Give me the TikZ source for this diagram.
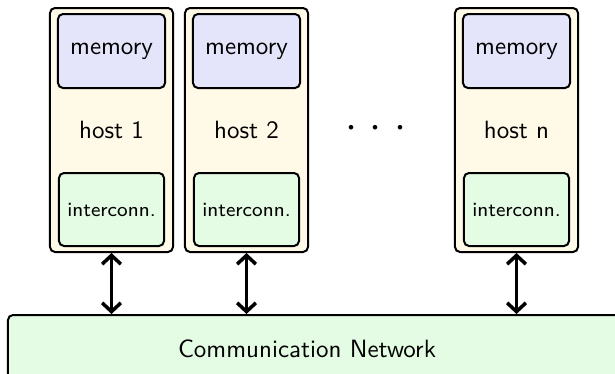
\documentclass[tikz,border=0pt]{standalone}
\usetikzlibrary{arrows.meta}
\definecolor{hostfill}{HTML}{FFFAE8}
\definecolor{memfill}{HTML}{E4E4FB}
\definecolor{icfill}{HTML}{E4FBE4}
\begin{document}
\begin{tikzpicture}[x=0.4pt,y=-0.4pt,font=\sffamily,
  hostbox/.style={draw=black,line width=0.8pt,rounded corners=2pt,fill=hostfill,minimum width=49.2pt,minimum height=97.6pt,inner sep=0pt},
  membox/.style={draw=black,line width=0.8pt,rounded corners=2pt,fill=memfill,minimum width=42.8pt,minimum height=29.6pt,inner sep=0pt},
  icbox/.style={draw=black,line width=0.8pt,rounded corners=2pt,fill=icfill,minimum width=42pt,minimum height=29.2pt,inner sep=0pt,font=\sffamily\footnotesize},
  netbox/.style={draw=black,line width=0.8pt,rounded corners=2pt,fill=icfill,minimum width=246.8pt,minimum height=28pt,inner sep=0pt},
  biarrow/.style={line width=1.4pt,{Straight Barb[length=3.5pt,width=7.5pt]}-{Straight Barb[length=3.5pt,width=7.5pt]}}]
\useasboundingbox (0,0) rectangle (615,374);
\node[netbox] (net) at (316.5,350) {};
\node (nettext) at (307,349) {Communication Network};
\foreach \x/\n/\t in {111.5/h1/host 1,246.5/h2/host 2,516.5/hn/host n}{
  \node[hostbox] (\n) at (\x,130) {\t};
  \node[membox] (\n m) at (\x,51) {memory};
  \node[icbox] (\n i) at (\x,209.5) {interconn.};
  \draw[biarrow] (\n.south) -- (\n.south |- net.north);
}
\node[font=\LARGE,inner sep=0pt] (dots) at (376,129) {$\cdot\hspace{1.2pt}\cdot\hspace{1.2pt}\cdot$};
\end{tikzpicture}
\end{document}
